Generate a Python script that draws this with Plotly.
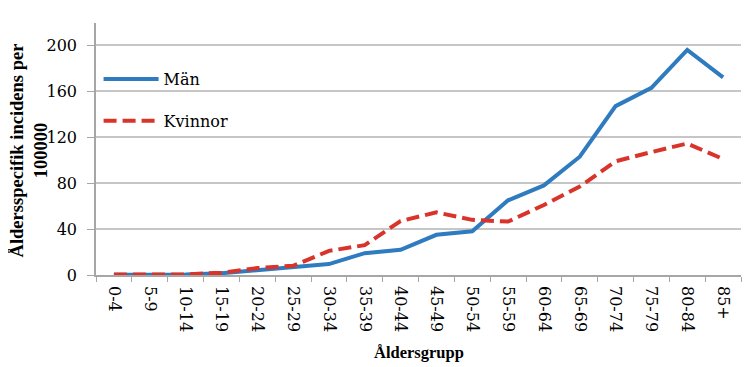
import plotly.graph_objects as go

categories = ["0-4", "5-9", "10-14", "15-19", "20-24", "25-29", "30-34", "35-39", "40-44",
              "45-49", "50-54", "55-59", "60-64", "65-69", "70-74", "75-79", "80-84", "85+"]
man = [0.2, 0.3, 0.5, 1.5, 4, 7, 9.5, 19, 22, 35, 38, 65, 78, 103, 147, 163, 196, 172]
kvinnor = [0.4, 0.5, 0.5, 2, 6, 8, 21, 26, 47, 54.5, 48, 46.5, 61, 77, 99, 107, 114.5, 101]

serif = "DejaVu Serif, Liberation Serif, serif"
bold_serif = "Liberation Serif, DejaVu Serif, serif"

fig = go.Figure()
fig.add_trace(go.Scatter(x=categories, y=man, mode="lines", name="Män", legendgroup="m",
                         line=dict(color="#2E7BBF", width=4)))
fig.add_trace(go.Scatter(x=categories, y=kvinnor, mode="lines", name="Kvinnor", legendgroup="k",
                         line=dict(color="#D9342B", width=4, dash="13px,6px")))

fig.update_layout(
    width=746, height=359,
    margin=dict(l=88, r=13, t=15, b=92),
    paper_bgcolor="white", plot_bgcolor="white",
    font=dict(family=serif, size=16, color="black"),
    showlegend=True,
    legend=dict(x=0.004, y=0.845, xanchor="left", yanchor="top",
                bgcolor="rgba(0,0,0,0)", font=dict(family=serif, size=16),
                tracegroupgap=18, itemwidth=55),
    xaxis=dict(
        type="category", showgrid=False, showline=True, linecolor="#A6A6A6", linewidth=1.5,
        ticks="outside", ticklen=5, tickcolor="#A6A6A6", tickson="boundaries",
        tickangle=90, tickfont=dict(family=serif, size=16), ticklabelstandoff=6,
        automargin=False, range=[-0.5, 17.5],
    ),
    yaxis=dict(
        range=[0, 219.4], dtick=40, tick0=0,
        showgrid=True, gridcolor="#C6C6C6", gridwidth=1.5,
        showline=True, linecolor="#A6A6A6", linewidth=1.5,
        ticks="outside", ticklen=7, tickcolor="#A6A6A6", ticklabelstandoff=7,
        tickfont=dict(family=serif, size=16), zeroline=False, automargin=False,
    ),
    annotations=[
        dict(text="<b>Åldersgrupp</b>", xref="paper", yref="paper", x=0.5, y=-0.306,
             xanchor="center", yanchor="middle", showarrow=False,
             font=dict(family=bold_serif, size=16.5)),
        dict(text="<b>Åldersspecifik incidens per<br>100000</b>", xref="paper", yref="paper",
             x=-0.104, y=0.494, xanchor="center", yanchor="middle", textangle=-90,
             showarrow=False, font=dict(family=bold_serif, size=18.5)),
    ],
)

fig.write_html("out.html")
